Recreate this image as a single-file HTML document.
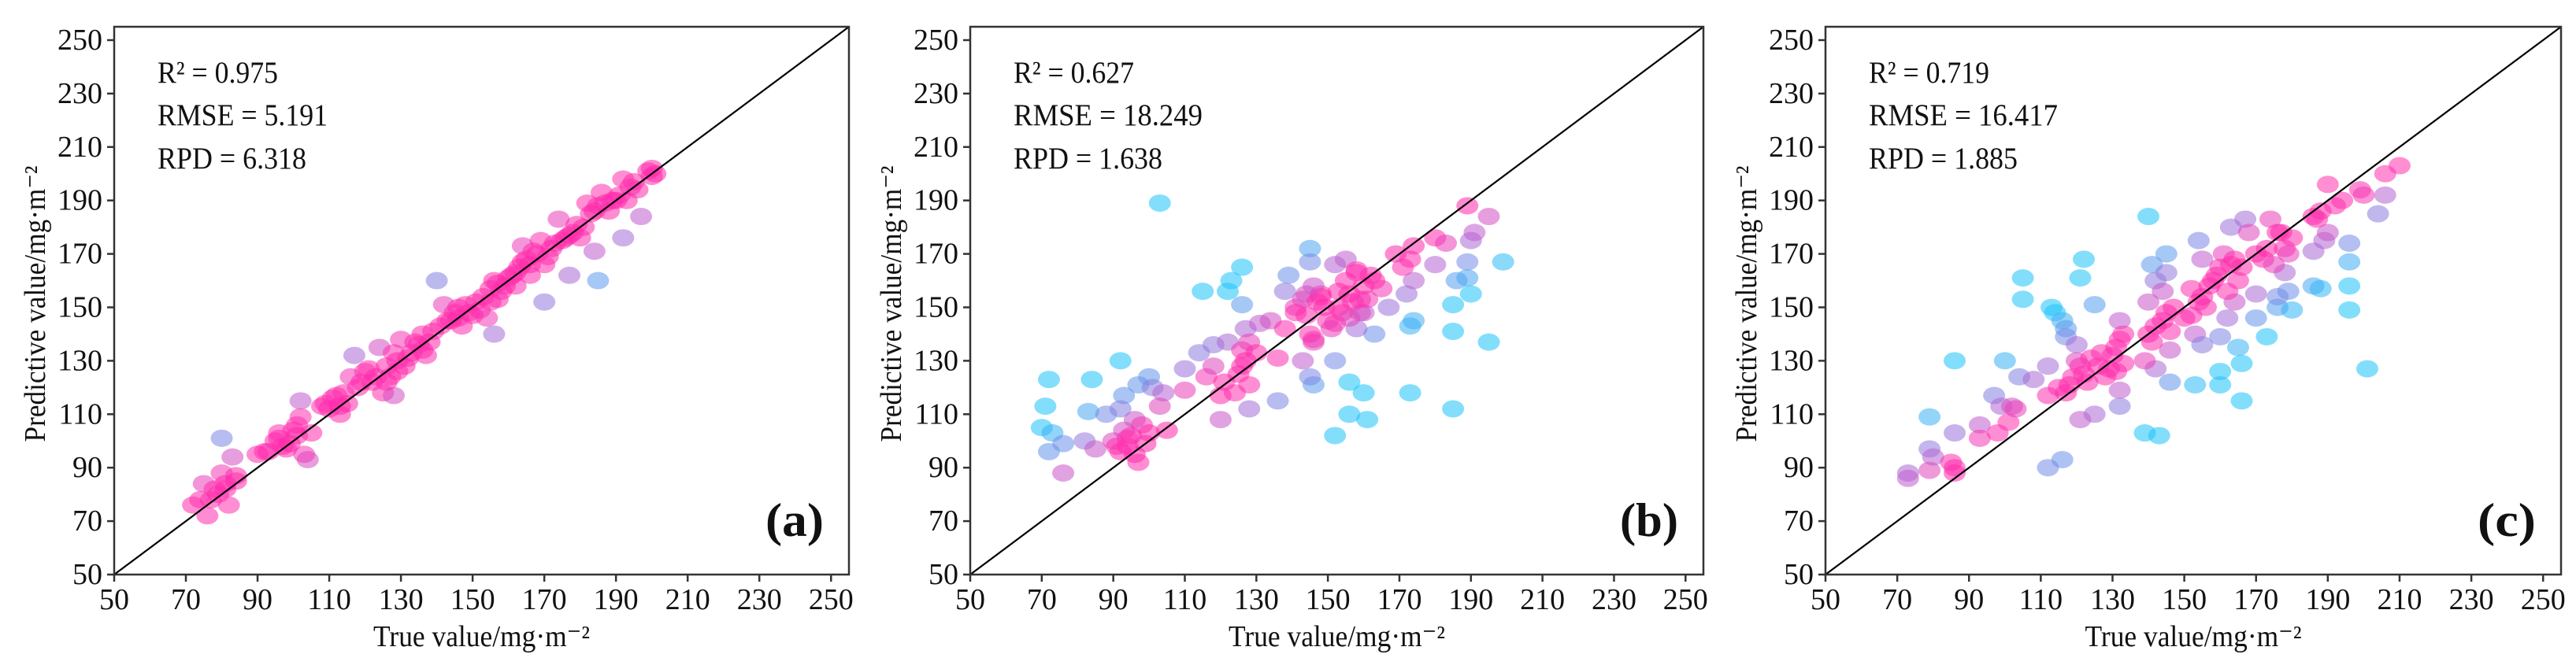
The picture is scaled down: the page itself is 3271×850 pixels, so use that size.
<!DOCTYPE html>
<html><head><meta charset="utf-8"><style>
html,body{margin:0;padding:0;background:#fff;}
svg{display:block;}
text{font-family:"Liberation Serif",serif;fill:#111;}
</style></head><body>
<svg id="chart" width="3271" height="850" viewBox="0 0 3271 850" xmlns="http://www.w3.org/2000/svg"></svg>
<script>
// ---- data ----
const ticks = [50,70,90,110,130,150,170,190,210,230,250];
const panelLabels = ["(a)","(b)","(c)"];
const statsR2 = ["0.975","0.627","0.719"];
const statsRMSE = ["5.191","18.249","16.417"];
const statsRPD = ["6.318","1.638","1.885"];
const trueA = [80,102,117,140,156,170,177,184,185,192,197,72,75,76,77,79,80,81,82,83,84,90,93,95,96,97,99,101,102,104,103,105,108,110,112,113,115,116,118,120,122,124,125,126,127,128,129,130,131,133,135,136,137,138,141,142,144,146,147,149,151,152,154,155,156,157,158,160,162,163,164,165,166,168,169,170,172,174,176,178,180,182,183,185,186,188,190,192,194,196,200,201,200,74,78,81,84,92,96,98,100,101,109,111,113,114,119,121,123,126,128,129,132,134,136,139,143,145,146,148,150,153,155,157,159,161,162,164,166,167,171,173,175,177,179,181,184,187,189,191,193,195,199];
const predA = [101,115,132,160,140,152,162,171,160,176,184,76,84,72,78,80,88,84,76,94,85,95,96,100,103,98,99,106,109,93,95,103,113,112,117,110,114,124,120,126,122,135,118,128,124,117,130,138,128,133,136,140,132,137,143,151,145,150,143,148,152,149,146,157,160,153,156,161,158,165,173,168,162,170,175,166,172,183,176,178,176,189,185,188,193,186,190,198,195,194,202,200,199,78,82,82,87,96,101,97,104,102,114,116,113,118,122,127,124,122,133,126,131,137,134,141,145,148,146,151,147,154,152,159,158,162,163,167,166,171,169,174,175,177,181,180,186,189,190,192,190,197,201];
const trueB = [103,92,72,84,70,71,72,115,122,123,126,126,145,139,146,152,156,156,160,161,173,174,173,185,185,185,186,189,190,195,199,100,93,83,73,76,97,76,82,85,88,92,96,101,104,110,114,118,120,122,127,128,131,136,138,143,145,145,148,152,152,155,160,163,167,172,174,180,189,190,191,195,158,146,90,92,93,94,95,97,98,100,103,105,110,116,118,120,121,125,126,127,128,130,134,136,138,141,143,144,146,146,148,150,153,155,156,158,159,160,162,165,169,171,173,174,180,183,189,91,94,96,99,124,126,128,141,144,147,149,151,153,154,157,158,161,163,156,152,145,159];
const predB = [189,130,123,123,105,113,96,156,156,160,165,151,172,162,121,102,110,122,118,108,118,145,143,112,151,141,160,161,155,137,167,124,117,111,103,99,121,88,100,97,110,112,108,120,118,127,133,136,108,137,142,112,144,115,156,130,167,124,155,130,166,168,148,140,150,155,160,166,167,175,178,184,142,138,100,96,104,98,102,92,106,103,113,104,119,124,128,117,122,125,134,130,137,133,145,131,142,150,153,147,137,158,154,145,150,160,155,163,148,158,162,157,170,165,168,173,176,174,188,98,101,95,99,118,128,121,148,155,152,150,142,156,148,152,164,153,160,146,144,140,153];
const trueC = [86,105,105,121,122,113,114,116,117,116,125,100,79,140,141,145,139,143,146,153,160,160,165,166,166,173,176,179,180,186,188,196,196,196,196,201,73,73,79,80,86,93,97,99,102,104,108,112,112,117,120,121,125,132,132,132,142,142,144,145,146,153,154,155,155,160,162,163,164,167,170,170,176,178,186,189,190,204,206,79,85,86,86,93,98,101,103,112,115,117,119,120,122,124,126,128,130,131,132,139,140,140,142,145,146,152,152,154,156,158,160,161,162,164,166,168,170,172,174,176,178,180,186,188,190,192,194,199,200,206,210,118,121,123,127,129,131,133,133,141,144,147,150,155,157,159,163,165,173,175,177,179,187];
const predC = [130,161,153,161,168,150,148,145,142,93,151,130,109,184,166,170,103,102,122,121,126,121,135,129,115,139,150,156,149,158,157,174,167,158,149,127,88,86,97,94,103,106,117,113,113,124,123,90,128,139,136,108,110,145,113,119,160,127,156,163,134,140,175,168,136,139,146,180,152,183,155,146,154,163,171,175,178,185,192,89,92,88,90,101,103,107,112,117,120,118,124,130,125,131,128,124,132,126,138,130,140,152,143,148,141,147,157,152,150,160,165,170,156,168,165,178,170,168,183,178,172,176,184,186,196,188,190,194,192,200,203,121,128,122,133,127,135,129,140,137,145,150,146,154,158,162,166,160,172,166,178,170,183];
const trueSets = [trueA, trueB, trueC];
const predSets = [predA, predB, predC];

// ---- layout ----
const svg = document.getElementById('chart');
const NS = 'http://www.w3.org/2000/svg';
const panelX0 = [145, 1232, 2318];
const panelX1 = [1078, 2163, 3252];
const yTop = 34, yBot = 730;
const vMin = 50, vMax = 255;

function mk(tag, attrs, parent) {
  const e = document.createElementNS(NS, tag);
  for (const k in attrs) e.setAttribute(k, attrs[k]);
  (parent || svg).appendChild(e);
  return e;
}
function yScale(v) { return yBot - (v - vMin) / (vMax - vMin) * (yBot - yTop); }

const stops = [[0,[255,40,170]],[7,[255,50,175]],[14,[180,100,210]],[24,[100,150,235]],[34,[30,195,250]]];
function colorFor(err) {
  const e = Math.min(Math.abs(err), 34);
  for (let i = 0; i < stops.length - 1; i++) {
    const a = stops[i], b = stops[i+1];
    if (e <= b[0]) {
      const t = (e - a[0]) / (b[0] - a[0]);
      const c = a[1].map((v, j) => Math.round(v + (b[1][j] - v) * t));
      return 'rgb(' + c.join(',') + ')';
    }
  }
  return 'rgb(30,195,250)';
}

for (let p = 0; p < 3; p++) {
  const x0 = panelX0[p], x1 = panelX1[p];
  const xScale = v => x0 + (v - vMin) / (vMax - vMin) * (x1 - x0);
  const g = mk('g', {});
  
  

  const pg = mk('g', {}, g);
  
  
  const tv = trueSets[p], pv = predSets[p];
  for (let i = 0; i < tv.length; i++) {
    const c = mk('ellipse', {cx: xScale(tv[i]), cy: yScale(pv[i]), rx: 14, ry: 11,
      fill: colorFor(pv[i] - tv[i]), 'fill-opacity': 0.55}, pg);
    
    
  }

  const ln = mk('line', {x1: xScale(vMin), y1: yScale(vMin), x2: xScale(vMax), y2: yScale(vMax), stroke: '#000', 'stroke-width': 2.2}, g);
  
  

  const fr = mk('rect', {x: x0, y: yTop, width: x1 - x0, height: yBot - yTop, fill: 'none', stroke: '#333', 'stroke-width': 2.5}, g);
  
  

  ticks.forEach(t => {
    const xx = xScale(t), yy = yScale(t);
    mk('line', {x1: xx, y1: yBot, x2: xx, y2: yBot + 9, stroke: '#333', 'stroke-width': 2.5}, g);
    const xl = mk('text', {x: xx, y: 774, 'font-size': 38, 'text-anchor': 'middle'}, g);
    xl.textContent = t;
    
    
    mk('line', {x1: x0 - 9, y1: yy, x2: x0, y2: yy, stroke: '#333', 'stroke-width': 2.5}, g);
    const yl = mk('text', {x: x0 - 15, y: yy + 12, 'font-size': 38, 'text-anchor': 'end'}, g);
    yl.textContent = t;
    
    
  });

  const xt = mk('text', {x: (x0 + x1) / 2, y: 821, 'font-size': 38, 'text-anchor': 'middle', textLength: 275, lengthAdjust: 'spacingAndGlyphs'}, g);
  xt.textContent = 'True value/mg·m⁻²';
  
  
  const yt = mk('text', {x: 0, y: 0, 'font-size': 38, 'text-anchor': 'middle', textLength: 351, lengthAdjust: 'spacingAndGlyphs',
    transform: 'translate(' + (x0 - 88) + ',386) rotate(-90)'}, g);
  yt.textContent = 'Predictive value/mg·m⁻²';
  
  

  const ax = x0 + 55;
  const s1 = mk('text', {x: ax, y: 105, 'font-size': 39, textLength: 153, lengthAdjust: 'spacingAndGlyphs'}, g);
  s1.textContent = 'R² = ' + statsR2[p];
  
  
  const s2 = mk('text', {x: ax, y: 159, 'font-size': 39, textLength: p === 0 ? 216 : 240, lengthAdjust: 'spacingAndGlyphs'}, g);
  s2.textContent = 'RMSE = ' + statsRMSE[p];
  
  
  const s3 = mk('text', {x: ax, y: 214, 'font-size': 39, textLength: 189, lengthAdjust: 'spacingAndGlyphs'}, g);
  s3.textContent = 'RPD = ' + statsRPD[p];
  
  

  const pl = mk('text', {x: x1 - 32, y: 681, 'font-size': 60, 'font-weight': 'bold', 'text-anchor': 'end', textLength: 74, lengthAdjust: 'spacingAndGlyphs'}, g);
  pl.textContent = panelLabels[p];
  
  
}
</script>
</body></html>
